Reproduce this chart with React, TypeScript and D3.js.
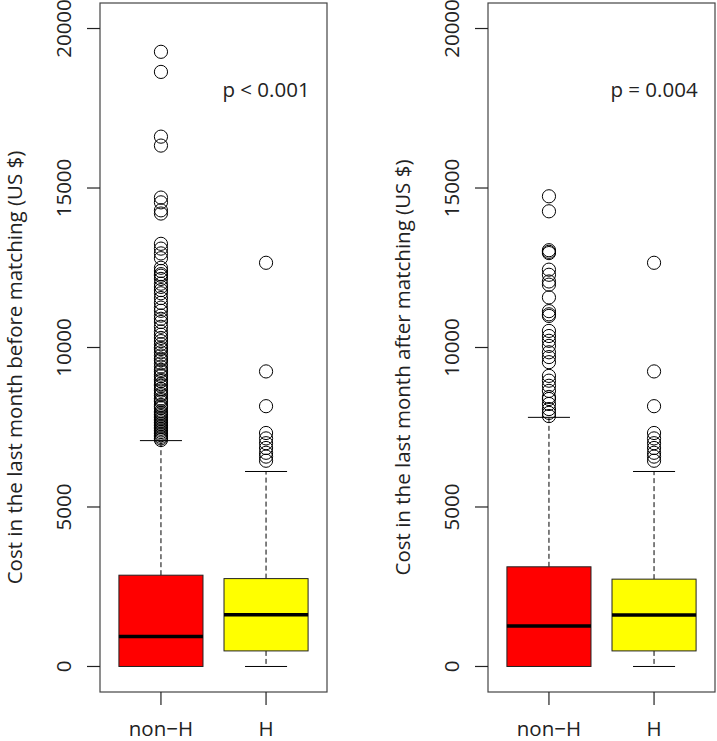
import React from "react";
import * as d3 from "d3";

const categories = ["non−H", "H"];
const yTicks = [0, 5000, 10000, 15000, 20000];

// box stats: [min whisker, q1, median, q3, max whisker]
const beforeStats = [
  [0, 0, 937, 2862, 7081],
  [0, 488, 1625, 2755, 6113],
];
const afterStats = [
  [0, 0, 1269, 3125, 7810],
  [0, 488, 1615, 2738, 6113],
];

const beforeOutNonH = [
  19270, 18640, 16610, 16330, 14700, 14550, 14300, 14200, 13250, 13100, 12950, 12800,
  12500, 12400, 12300, 12250, 12150, 12000, 11900, 11800, 11700, 11550, 11400, 11250,
  11150, 11000, 10900, 10800, 10650, 10500, 10400, 10300, 10200, 10100, 10000, 9950,
  9850, 9750, 9650, 9600, 9500, 9400, 9300, 9250, 9150, 9100, 9000, 8950, 8850, 8800,
  8700, 8650, 8550, 8500, 8400, 8350, 8300, 8200, 8150, 8100, 8000, 7950, 7900, 7850,
  7800, 7750, 7700, 7650, 7600, 7550, 7500, 7450, 7400, 7350, 7300, 7250, 7200, 7150, 7100,
];
const outH = [12656, 9250, 8160, 7320, 7150, 7000, 6850, 6700, 6580, 6450];
const afterOutNonH = [
  14740, 14270, 13050, 13000, 12960, 12440, 12280, 12070, 11970, 11570, 11140, 11040,
  10990, 10520, 10360, 10210, 10050, 9850, 9700, 9540, 9110, 8960, 8800, 8640, 8450,
  8385, 8230, 8070, 7950, 7850,
];

const panels = [
  {
    left: 100,
    title: "Cost in the last month before matching (US $)",
    p: "p < 0.001",
    stats: beforeStats,
    outliers: [beforeOutNonH, outH],
  },
  {
    left: 488,
    title: "Cost in the last month after matching (US $)",
    p: "p = 0.004",
    stats: afterStats,
    outliers: [afterOutNonH, outH],
  },
];

const fills = ["#ff0000", "#ffff00"];
const FONT = "'Open Sans', 'DejaVu Sans', sans-serif";
const FS = 20.5;

const top = 3;
const bottom = 692;
const panelW = 227;

function Panel({ cfg }: { cfg: (typeof panels)[number] }) {
  const x = d3.scaleLinear().domain([0.42, 2.58]).range([cfg.left, cfg.left + panelW]);
  const y = d3.scaleLinear().domain([-800, 20800]).range([bottom, top]);
  const bw = x(0.4) - x(0);
  const sw = x(0.2) - x(0);
  return (
    <g>
      {cfg.stats.map((s, i) => {
        const cx = x(i + 1);
        const [lo, q1, med, q3, hi] = s;
        return (
          <g key={i}>
            <line x1={cx} x2={cx} y1={y(q3)} y2={y(hi)} stroke="#000" strokeWidth={1} strokeDasharray="5,3" />
            <line x1={cx} x2={cx} y1={y(q1)} y2={y(lo)} stroke="#000" strokeWidth={1} strokeDasharray="5,3" />
            <line x1={cx - sw} x2={cx + sw} y1={y(hi)} y2={y(hi)} stroke="#000" strokeWidth={1} />
            <line x1={cx - sw} x2={cx + sw} y1={y(lo)} y2={y(lo)} stroke="#000" strokeWidth={1} />
            <rect x={cx - bw} y={y(q3)} width={2 * bw} height={y(q1) - y(q3)} fill={fills[i]} stroke="#222" strokeWidth={1} />
            <line x1={cx - bw} x2={cx + bw} y1={y(med)} y2={y(med)} stroke="#000" strokeWidth={3.5} />
            {cfg.outliers[i].map((v, j) => (
              <circle key={j} cx={cx} cy={y(v)} r={6.6} fill="none" stroke="#000" strokeWidth={1} />
            ))}
          </g>
        );
      })}
      <rect x={cfg.left} y={top} width={panelW} height={bottom - top} fill="none" stroke="#444" strokeWidth={1.2} />
      {yTicks.map((t) => (
        <g key={t}>
          <line x1={cfg.left - 13} x2={cfg.left} y1={y(t)} y2={y(t)} stroke="#222" strokeWidth={1.2} />
          <text
            transform={`translate(${cfg.left - 29},${y(t)}) rotate(-90)`}
            textAnchor="middle"
            fontFamily={FONT}
            fontSize={FS}
            fill="#222"
          >
            {t}
          </text>
        </g>
      ))}
      {categories.map((c, i) => (
        <g key={c}>
          <line x1={x(i + 1)} x2={x(i + 1)} y1={bottom} y2={bottom + 13} stroke="#222" strokeWidth={1.2} />
          <text x={x(i + 1)} y={736} textAnchor="middle" fontFamily={FONT} fontSize={FS} fill="#222">
            {c}
          </text>
        </g>
      ))}
      <text
        transform={`translate(${cfg.left - 78},${(top + bottom) / 2 + 20}) rotate(-90)`}
        textAnchor="middle"
        fontFamily={FONT}
        fontSize={FS}
        fill="#222"
      >
        {cfg.title}
      </text>
      <text x={x(2)} y={97} textAnchor="middle" fontFamily={FONT} fontSize={FS} fill="#222">
        {cfg.p}
      </text>
    </g>
  );
}

export default function App() {
  return (
    <svg width={717} height={741} style={{ display: "block", position: "absolute", left: 0, top: 0 }}>
      <rect width={717} height={741} fill="#fff" />
      {panels.map((p, i) => (
        <Panel key={i} cfg={p} />
      ))}
    </svg>
  );
}
